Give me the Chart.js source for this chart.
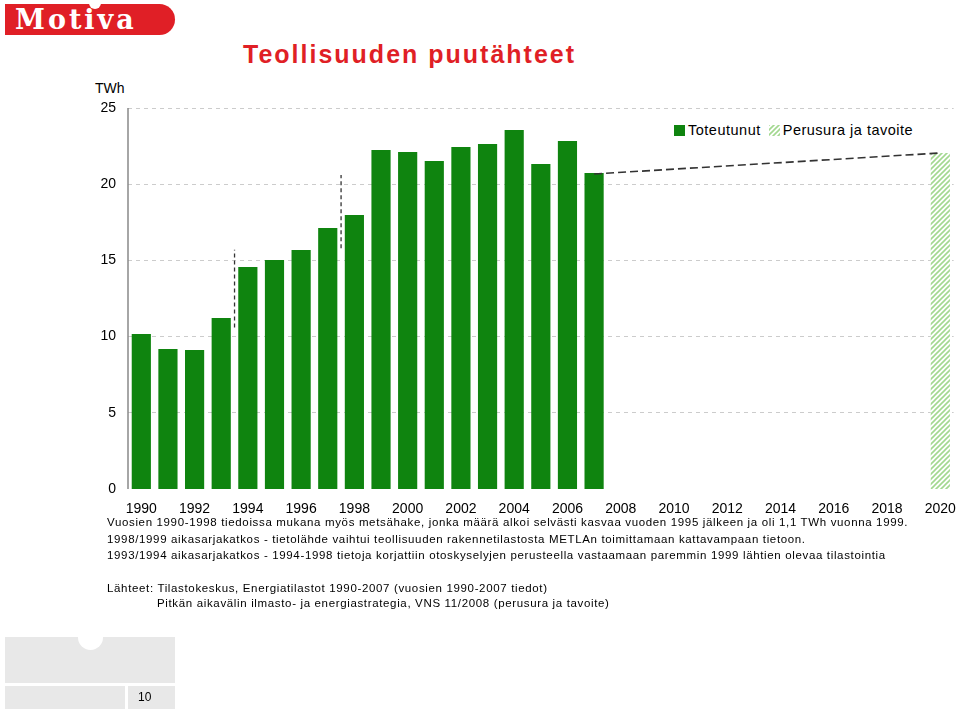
<!DOCTYPE html>
<html><head><meta charset="utf-8">
<script src="https://cdn.jsdelivr.net/npm/chart.js@4"></script>
<style>
body{margin:0;width:960px;height:710px;background:#fff;font-family:"Liberation Sans",Arial,sans-serif;position:relative;overflow:hidden}
#c{position:absolute;left:0;top:0}
.abs{position:absolute}
.note{font-size:11.5px;letter-spacing:0.65px;color:#000;white-space:nowrap}
</style></head><body>
<div class="abs" style="left:5px;top:4px;width:170px;height:31px;background:#e01f26;border-radius:0 16px 16px 0"></div>
<div class="abs" style="left:89px;top:-3px;width:12px;height:12px;border-radius:50%;background:#fff"></div>
<div class="abs" style="left:15px;top:4px;font:bold 27px 'DejaVu Serif',serif;color:#fff;letter-spacing:3px">Motiva</div>
<div class="abs" style="left:243px;top:40px;font:bold 25px 'Liberation Sans',Arial;color:#e01f26;letter-spacing:2px">Teollisuuden puutähteet</div>
<div class="abs" style="left:95px;top:80px;font-size:14px">TWh</div>
<div class="abs" style="left:674px;top:122px;font-size:14.5px;letter-spacing:0.5px;display:flex;align-items:center">
<span style="display:inline-block;width:11px;height:11px;background:#0f840f;margin-right:3px"></span>Toteutunut
<span id="lg2" style="display:inline-block;width:11px;height:11px;margin:0 3px 0 8px"></span>Perusura ja tavoite</div>
<canvas id="c" width="960" height="710"></canvas>
<div class="abs note" style="left:107px;top:516px">Vuosien 1990-1998 tiedoissa mukana myös metsähake, jonka määrä alkoi selvästi kasvaa vuoden 1995 jälkeen ja oli 1,1 TWh vuonna 1999.</div>
<div class="abs note" style="left:107px;top:533px">1998/1999 aikasarjakatkos - tietolähde vaihtui teollisuuden rakennetilastosta METLAn toimittamaan kattavampaan tietoon.</div>
<div class="abs note" style="left:107px;top:549px">1993/1994 aikasarjakatkos - 1994-1998 tietoja korjattiin otoskyselyjen perusteella vastaamaan paremmin 1999 lähtien olevaa tilastointia</div>
<div class="abs note" style="left:107px;top:582px">Lähteet: Tilastokeskus, Energiatilastot 1990-2007 (vuosien 1990-2007 tiedot)</div>
<div class="abs note" style="left:157px;top:597px">Pitkän aikavälin ilmasto- ja energiastrategia, VNS 11/2008 (perusura ja tavoite)</div>
<div class="abs" style="left:5px;top:637px;width:170px;height:46px;background:#e8e8e8"></div>
<div class="abs" style="left:78px;top:625px;width:25px;height:25px;border-radius:50%;background:#fff"></div>
<div class="abs" style="left:5px;top:686px;width:120px;height:23px;background:#e8e8e8"></div>
<div class="abs" style="left:128px;top:686px;width:47px;height:23px;background:#e8e8e8;font-size:12px;line-height:23px;text-indent:10px">10</div>
<script>
const years=[];for(let y=1990;y<=2020;y++)years.push(String(y));
const actual=[10.17,9.19,9.12,11.22,14.57,15.03,15.68,17.13,17.98,22.24,22.11,21.52,22.44,22.64,23.56,21.33,22.83,20.73,null,null,null,null,null,null,null,null,null,null,null,null,null];
const target=[null,null,null,null,null,null,null,null,null,null,null,null,null,null,null,null,null,null,null,null,null,null,null,null,null,null,null,null,null,null,22.05];
const trend=[null,null,null,null,null,null,null,null,null,null,null,null,null,null,null,null,null,20.67,null,null,null,null,null,null,null,null,null,null,null,null,22.05];
const breaks=[{x:3.5,y0:10.6,y1:15.7},{x:7.5,y0:15.8,y1:20.6}];
const yTicks=[0,5,10,15,20,25];

function hatch(){const p=document.createElement('canvas');p.width=5;p.height=5;const g=p.getContext('2d');
g.fillStyle='#fff';g.fillRect(0,0,5,5);g.strokeStyle='#a3d890';g.lineWidth=1.6;
g.beginPath();g.moveTo(-1,6);g.lineTo(6,-1);g.moveTo(-1,1);g.lineTo(1,-1);g.moveTo(4,6);g.lineTo(6,4);g.stroke();return p;}
const ctx=document.getElementById('c').getContext('2d');
const pat=ctx.createPattern(hatch(),'repeat');
const lc=document.createElement('canvas');lc.width=11;lc.height=11;const lg=lc.getContext('2d');lg.fillStyle=lg.createPattern(hatch(),'repeat');lg.fillRect(0,0,11,11);
document.getElementById('lg2').style.background='url('+lc.toDataURL()+')';

const breakPlugin={id:'brk',afterDatasetsDraw(ch){const c=ch.ctx,x=ch.scales.x,y=ch.scales.y;c.save();c.strokeStyle='#333';c.lineWidth=1.3;c.setLineDash([4,3]);
breaks.forEach(b=>{const px=x.getPixelForValue(b.x);c.beginPath();c.moveTo(px,y.getPixelForValue(b.y0));c.lineTo(px,y.getPixelForValue(b.y1));c.stroke();});
c.setLineDash([]);c.strokeStyle='#888';c.lineWidth=1.5;const a=ch.chartArea;c.beginPath();c.moveTo(a.left,a.top);c.lineTo(a.left,a.bottom);c.stroke();c.restore();}};

new Chart(ctx,{type:'bar',data:{labels:years,datasets:[
{type:'line',data:trend,spanGaps:true,borderColor:'#333',borderWidth:1.6,borderDash:[8,4],pointRadius:0,order:0},
{data:actual,backgroundColor:'#0f840f',barPercentage:0.72,categoryPercentage:1,grouped:false},
{data:target,backgroundColor:pat,barPercentage:0.72,categoryPercentage:1,grouped:false}]},
options:{responsive:false,animation:false,
layout:{padding:{left:0,top:108,right:6,bottom:191}},
plugins:{legend:{display:false},tooltip:{enabled:false}},
scales:{x:{grid:{display:false},border:{display:false},afterFit(s){s.height=30;},
 ticks:{autoSkip:false,maxRotation:0,padding:4,color:'#000',font:{size:14,family:'Liberation Sans'},callback:(v,i)=>i%2===0?years[i]:''}},
y:{min:0,max:25,afterFit(s){s.width=128;},afterBuildTicks(s){s.ticks=yTicks.map(v=>({value:v}));},
 border:{display:false,dash:[4,4]},
 grid:{color:'#ccc',drawTicks:false,lineWidth:c=>c.tick.value===0?0:1},
 ticks:{padding:12,color:'#000',font:{size:14,family:'Liberation Sans'}}}}},
plugins:[breakPlugin]});
</script></body></html>
